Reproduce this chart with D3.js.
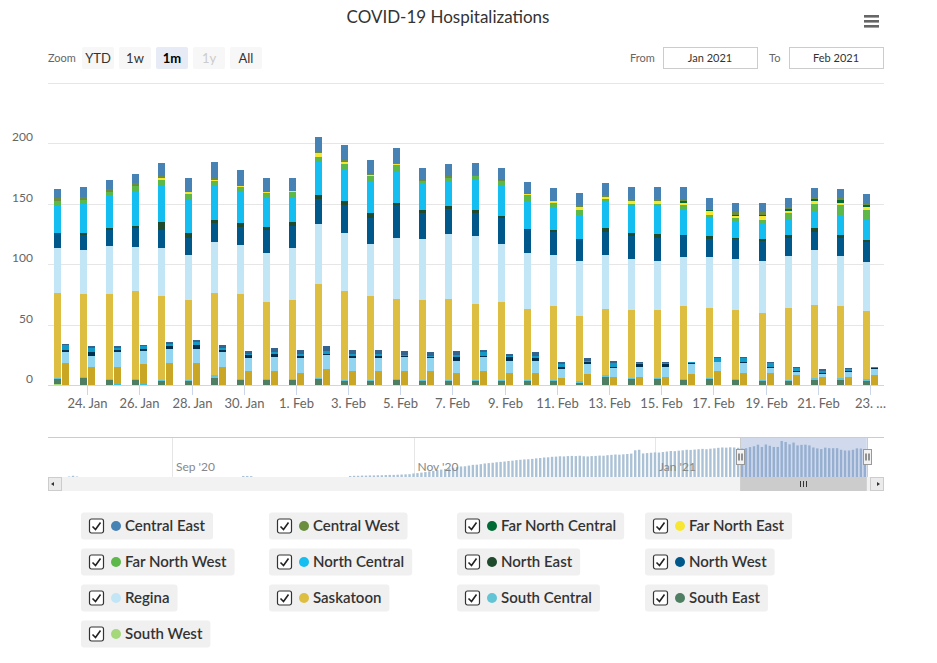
<!DOCTYPE html>
<html>
<head>
<meta charset="utf-8">
<script src="https://cdn.jsdelivr.net/npm/d3@7/dist/d3.min.js"></script>
<style>
  body { margin: 0; background: #fff; }
  svg { display: block; font-family: Lato, "Open Sans", sans-serif; }
</style>
</head>
<body>
<svg id="chart" width="937" height="663"></svg>
<script>
// ---- data ----
const titleText = "COVID-19 Hospitalizations";

const dayLabels = ["2021-01-23","2021-01-24","2021-01-25","2021-01-26","2021-01-27","2021-01-28","2021-01-29","2021-01-30",
  "2021-01-31","2021-02-01","2021-02-02","2021-02-03","2021-02-04","2021-02-05","2021-02-06","2021-02-07",
  "2021-02-08","2021-02-09","2021-02-10","2021-02-11","2021-02-12","2021-02-13","2021-02-14","2021-02-15",
  "2021-02-16","2021-02-17","2021-02-18","2021-02-19","2021-02-20","2021-02-21","2021-02-22","2021-02-23"];

const regions = ["Central East","Central West","Far North Central","Far North East","Far North West","North Central",
  "North East","North West","Regina","Saskatoon","South Central","South East","South West"];
const regionColors = ["#4682b4","#6b8e3e","#006b35","#f7e733","#5cb848","#15bef0",
  "#1f4a2c","#00578a","#c2e6f6","#ddbe40","#62c4d4","#4f7f63","#a5d87a"];

// hospitalized (left column of each day)
const centralEast     = [7,8,8,8,11,11,14,13,11,10,12,13,11,12,10,10,10,10,10,11,10,10,10,10,11,9,8,8,8,8,7,8];
const centralWest     = [3,3,2,2,2,0,1,0,0,0,1,1,1,1,1,2,1,1,0,0,2,1,2,2,1,1,2,2,1,1,2,1];
const farNorthCentral = [0,0,0,0,0,0,0,0,0,0,0,0,0,0,0,0,0,0,0,0,0,0,0,0,1,1,1,1,2,2,2,2];
const farNorthEast    = [0,0,0,0,1,2,1,1,1,1,3,2,1,1,0,0,0,0,1,1,2,2,2,2,2,3,2,3,2,2,2,2];
const farNorthWest    = [4,3,3,5,5,5,4,4,3,4,4,5,4,5,2,2,3,4,5,4,4,2,2,2,4,3,2,3,5,6,8,8];
const northCentral    = [22,24,27,28,30,27,28,26,25,21,28,26,27,26,22,21,25,25,23,19,20,22,22,23,21,15,14,13,13,14,17,17];
const northEast       = [0,2,2,2,7,4,3,3,3,3,3,3,4,2,3,2,3,2,1,1,0,3,3,3,1,2,1,2,2,3,2,2];
const northWest       = [13,12,13,16,15,14,16,15,19,19,21,23,21,27,21,21,19,21,19,19,18,19,19,19,17,15,17,16,15,15,15,16];
const regina          = [37,37,40,36,39,38,42,41,40,43,49,48,43,51,51,54,56,48,46,43,46,45,42,41,41,42,42,43,43,46,42,41];
const saskatoon       = [70,68,70,73,70,66,68,70,64,65,78,74,70,66,66,67,63,65,59,61,54,55,56,56,60,58,57,56,60,60,59,56];
const southCentral    = [1,1,1,1,1,1,2,1,1,1,1,1,1,1,1,1,1,1,1,1,1,1,1,1,1,1,1,1,1,2,2,2];
const southEast       = [4,6,4,4,3,3,6,4,4,4,5,3,3,4,3,3,3,3,3,3,2,7,5,5,4,5,4,3,3,4,4,3];
const southWest       = [1,0,0,0,0,0,0,0,0,0,0,0,0,0,0,0,0,0,0,0,0,0,0,0,0,0,0,0,0,0,0,0];

// in ICU (right column of each day, darker shades)
const icuRegions = ["South Central","Saskatoon","Regina","North West","North Central","Central East"];
const icuColors  = ["#3cbfd9","#c9a623","#92d5f1","#00304f","#1399c6","#33648f"];
const icuSouthCentral = [0,0,1,1,0,0,0,0,0,0,0,0,0,0,0,0,0,0,0,0,0,0,0,0,0,0,0,0,0,0,0,0];
const icuSaskatoon    = [18,15,14,16,18,18,15,12,12,10,13,12,12,12,12,10,12,10,10,6,9,7,7,7,9,12,10,10,8,7,7,8];
const icuRegina       = [9,9,12,11,12,12,12,10,11,12,12,10,10,11,10,10,11,10,10,7,8,7,8,8,8,7,8,4,3,2,4,5];
const icuNorthWest    = [2,3,2,2,2,3,2,3,3,2,1,2,2,1,1,3,1,3,2,2,2,1,2,2,1,0,1,1,1,1,1,1];
const icuNorthCentral = [4,4,2,2,2,3,2,1,1,2,2,2,2,1,1,2,3,1,2,2,1,3,1,1,1,3,3,3,2,2,1,1];
const icuCentralEast  = [1,1,1,1,2,1,2,2,4,3,4,3,3,3,3,3,2,2,3,2,2,2,1,1,0,1,1,1,1,1,1,0];

// x axis ticks
const tickDays   = ["2021-01-24","2021-01-26","2021-01-28","2021-01-30","2021-02-01","2021-02-03","2021-02-05","2021-02-07",
  "2021-02-09","2021-02-11","2021-02-13","2021-02-15","2021-02-17","2021-02-19","2021-02-21","2021-02-23"];
const tickLabels = ["24. Jan","26. Jan","28. Jan","30. Jan","1. Feb","3. Feb","5. Feb","7. Feb",
  "9. Feb","11. Feb","13. Feb","15. Feb","17. Feb","19. Feb","21. Feb","23. \u2026"];
const yTicks = [0,50,100,150,200,250];

// navigator: daily totals before the zoomed month (Aug 1 2020 - Jan 22 2021)
const navAug = [0,0,0,0,0,3,7,3,0,0,0,0,0,0,0,0,0,0,0,0,0,0,0,0,0,0,0,0,0,0,0];
const navSep = [0,0,0,0,0,0,0,0,0,0,0,0,0,0,0,0,0,0,6,6,5,0,0,0,0,0,0,0,0,0];
const navOct = [0,0,0,0,0,0,0,0,0,0,0,0,0,0,0,6,7,7,8,8,9,9,10,10,11,12,12,13,14,15,16];
const navNov = [20,22,25,28,32,35,39,42,46,50,53,56,60,61,65,69,70,73,77,79,81,84,86,88,91,93,96,98,100,101];
const navDec = [103,106,108,111,112,115,116,118,117,119,120,119,121,118,117,119,120,122,121,124,126,128,127,129,131,133,152,155,134,136,138];
const navJan = [140,139,142,145,148,147,150,152,155,154,156,158,160,158,161,163,166,168,167,169,168,166];
const navAxisDates  = ["2020-09-01","2020-11-01","2021-01-01"];
const navAxisLabels = ["Sep '20","Nov '20","Jan '21"];

const zoomButtons = ["YTD","1w","1m","1y","All"];

// ---- setup ----
const parse = d3.timeParse("%Y-%m-%d");
const days = dayLabels.map(parse);

const hospital = {
  "Central East": centralEast, "Central West": centralWest, "Far North Central": farNorthCentral,
  "Far North East": farNorthEast, "Far North West": farNorthWest, "North Central": northCentral,
  "North East": northEast, "North West": northWest, "Regina": regina, "Saskatoon": saskatoon,
  "South Central": southCentral, "South East": southEast, "South West": southWest
};
const icu = {
  "South Central": icuSouthCentral, "Saskatoon": icuSaskatoon, "Regina": icuRegina,
  "North West": icuNorthWest, "North Central": icuNorthCentral, "Central East": icuCentralEast
};

const hospRows = days.map((d, i) => {
  const r = {date: d};
  regions.forEach(k => r[k] = hospital[k][i]);
  return r;
});
const icuRows = days.map((d, i) => {
  const r = {date: d};
  icuRegions.forEach(k => r[k] = icu[k][i]);
  return r;
});

const svg = d3.select("#chart");

const plot = {left: 48, right: 884, top: 83, bottom: 385};

const x = d3.scaleTime()
  .domain([d3.timeHour.offset(days[0], -12), d3.timeHour.offset(days[days.length - 1], 12)])
  .range([plot.left, plot.right - 1]);
const y = d3.scaleLinear().domain([0, 250]).range([plot.bottom, plot.top]);

// ---- title & menu ----
svg.append("text")
  .attr("x", 448).attr("y", 23)
  .attr("text-anchor", "middle")
  .attr("font-size", 17)
  .attr("fill", "#333")
  .text(titleText);

[15, 20, 25].forEach(v => {
  svg.append("rect").attr("x", 864).attr("y", v).attr("width", 15).attr("height", 2.6).attr("fill", "#666");
});

// ---- range selector ----
svg.append("text").attr("x", 48).attr("y", 62).attr("font-size", 11).attr("fill", "#666").text("Zoom");

const btn = svg.append("g").selectAll("g")
  .data(zoomButtons)
  .join("g")
  .attr("transform", (d, i) => `translate(${82 + i * 37}, 47)`);
btn.append("rect")
  .attr("width", 32).attr("height", 22).attr("rx", 2)
  .attr("fill", d => d === "1m" ? "#e6ebf5" : "#f7f7f7");
btn.append("text")
  .attr("x", 16).attr("y", 15.5)
  .attr("text-anchor", "middle")
  .attr("font-size", 13)
  .attr("font-weight", d => d === "1m" ? "bold" : "normal")
  .attr("fill", d => d === "1m" ? "#000" : (d === "1y" ? "#ccc" : "#333"))
  .text(d => d);

svg.append("text").attr("x", 630).attr("y", 62).attr("font-size", 11).attr("fill", "#666").text("From");
svg.append("text").attr("x", 769).attr("y", 62).attr("font-size", 11).attr("fill", "#666").text("To");
[[663, "Jan 2021"], [789, "Feb 2021"]].forEach(([bx, t]) => {
  svg.append("rect").attr("x", bx + 0.5).attr("y", 47.5).attr("width", 94).attr("height", 21)
    .attr("fill", "#fff").attr("stroke", "#ccc");
  svg.append("text").attr("x", bx + 47).attr("y", 62).attr("text-anchor", "middle")
    .attr("font-size", 11).attr("fill", "#333").text(t);
});

// ---- grid & y axis ----
svg.append("g").selectAll("line")
  .data(yTicks)
  .join("line")
  .attr("x1", plot.left).attr("x2", plot.right)
  .attr("y1", d => Math.round(y(d)) + 0.5).attr("y2", d => Math.round(y(d)) + 0.5)
  .attr("stroke", "#e6e6e6");

svg.append("g").selectAll("text")
  .data(yTicks.slice(0, -1))
  .join("text")
  .attr("x", 33).attr("y", d => Math.round(y(d)) - 2)
  .attr("text-anchor", "end")
  .attr("font-size", 12)
  .attr("fill", "#666")
  .text(d => d);

// ---- stacked columns ----
const hospStack = d3.stack().keys(regions.slice().reverse())(hospRows);
const icuStack = d3.stack().keys(icuRegions)(icuRows);

const bars = svg.append("g").attr("shape-rendering", "crispEdges");

bars.selectAll("g.hosp")
  .data(hospStack)
  .join("g")
  .attr("class", "hosp")
  .attr("fill", s => regionColors[regions.indexOf(s.key)])
  .selectAll("rect")
  .data(s => s.filter(d => d[1] > d[0]))
  .join("rect")
  .attr("x", d => Math.round(x(d.data.date)) - 7)
  .attr("width", 7)
  .attr("y", d => Math.round(y(d[1])))
  .attr("height", d => Math.round(y(d[0])) - Math.round(y(d[1])));

bars.selectAll("g.icu")
  .data(icuStack)
  .join("g")
  .attr("class", "icu")
  .attr("fill", s => icuColors[icuRegions.indexOf(s.key)])
  .selectAll("rect")
  .data(s => s.filter(d => d[1] > d[0]))
  .join("rect")
  .attr("x", d => Math.round(x(d.data.date)) + 1)
  .attr("width", 7)
  .attr("y", d => Math.round(y(d[1])))
  .attr("height", d => Math.round(y(d[0])) - Math.round(y(d[1])));

// ---- x axis ----
svg.append("line")
  .attr("x1", plot.left).attr("x2", plot.right)
  .attr("y1", plot.bottom + 0.5).attr("y2", plot.bottom + 0.5)
  .attr("stroke", "#ccd6eb");

const xt = svg.append("g").selectAll("g")
  .data(tickDays.map(parse))
  .join("g")
  .attr("transform", d => `translate(${Math.round(x(d)) + 0.5},0)`);
xt.append("line").attr("y1", plot.bottom).attr("y2", plot.bottom + 10).attr("stroke", "#ccd6eb");
xt.append("text")
  .attr("y", 408)
  .attr("text-anchor", "middle")
  .attr("font-size", 13)
  .attr("fill", "#666")
  .text((d, i) => tickLabels[i]);

// ---- navigator ----
const nav = {top: 437, bottom: 477};
const navStart = parse("2020-08-01");
const navEarly = [].concat(navAug, navSep, navOct, navNov, navDec, navJan);
const navRows = navEarly.map((v, i) => ({date: d3.timeDay.offset(navStart, i), value: v}))
  .concat(hospRows.map(r => ({date: r.date, value: d3.sum(regions, k => r[k])})));

const navDates = navAxisDates.map(parse);
const nx = d3.scaleTime().domain([navDates[0], navDates[2]]).range([172, 655]);
const ny = d3.scaleLinear().domain([0, d3.max(navRows, d => d.value) * 1.11]).range([nav.bottom, nav.top]);

svg.append("g").selectAll("line")
  .data(navDates)
  .join("line")
  .attr("x1", d => Math.round(nx(d)) + 0.5).attr("x2", d => Math.round(nx(d)) + 0.5)
  .attr("y1", nav.top).attr("y2", nav.bottom)
  .attr("stroke", "#e6e6e6");

svg.append("g").attr("fill", "#abc2d6")
  .selectAll("rect")
  .data(navRows.filter(d => d.value > 0))
  .join("rect")
  .attr("x", d => nx(d.date) - 1.2)
  .attr("width", 2.4)
  .attr("y", d => ny(d.value))
  .attr("height", d => nav.bottom - ny(d.value));

svg.append("g").selectAll("text")
  .data(navDates)
  .join("text")
  .attr("x", d => nx(d) + 4).attr("y", 471)
  .attr("font-size", 12)
  .attr("fill", "#888")
  .text((d, i) => navAxisLabels[i]);

const maskL = nx(x.domain()[0]);
const maskR = nx(x.domain()[1]);
svg.append("rect")
  .attr("x", maskL).attr("y", nav.top)
  .attr("width", maskR - maskL).attr("height", nav.bottom - nav.top)
  .attr("fill", "rgba(102,133,194,0.3)");

svg.append("path")
  .attr("d", `M${plot.left},${nav.top + 0.5}H${plot.right}`)
  .attr("stroke", "#ccc").attr("fill", "none");
svg.append("path")
  .attr("d", `M${Math.round(maskL) + 0.5},${nav.top}V${nav.bottom}M${Math.round(maskR) + 0.5},${nav.top}V${nav.bottom}`)
  .attr("stroke", "#ccc").attr("fill", "none");

[maskL, maskR].forEach(hx => {
  const g = svg.append("g").attr("transform", `translate(${Math.round(hx) + 0.5},449.5)`);
  g.append("rect").attr("x", -4).attr("width", 8).attr("height", 15)
    .attr("fill", "#f2f2f2").attr("stroke", "#999");
  g.append("path").attr("d", "M-1.5,4V11M1.5,4V11").attr("stroke", "#333");
});

// ---- scrollbar ----
const sb = {top: 477, h: 14};
svg.append("rect").attr("x", plot.left).attr("y", sb.top).attr("width", plot.right - plot.left).attr("height", sb.h)
  .attr("fill", "#f2f2f2");
svg.append("rect").attr("x", maskL).attr("y", sb.top).attr("width", maskR - maskL).attr("height", sb.h)
  .attr("fill", "#ccc");
const mid = Math.round((maskL + maskR) / 2) + 0.5;
svg.append("path")
  .attr("d", `M${mid - 3},${sb.top + 4}V${sb.top + 10}M${mid},${sb.top + 4}V${sb.top + 10}M${mid + 3},${sb.top + 4}V${sb.top + 10}`)
  .attr("stroke", "#333");
[[plot.left, "M6,5L6,9L3,7Z"], [plot.right - 14, "M7,5L7,9L10,7Z"]].forEach(([bx, p]) => {
  svg.append("rect").attr("x", bx + 0.5).attr("y", sb.top + 0.5).attr("width", 13).attr("height", 13)
    .attr("fill", "#ebebeb").attr("stroke", "#ccc");
  svg.append("path").attr("transform", `translate(${bx},${sb.top})`).attr("d", p).attr("fill", "#333");
});

// ---- legend ----
const leg = svg.append("g").selectAll("g")
  .data(regions)
  .join("g")
  .attr("transform", (d, i) => `translate(${81 + (i % 4) * 188}, ${526 + Math.floor(i / 4) * 36})`);

const bg = leg.append("rect")
  .attr("y", -13.5).attr("height", 27).attr("rx", 3)
  .attr("fill", "#f0f0f0");
leg.append("rect")
  .attr("x", 8.5).attr("y", -7).attr("width", 14).attr("height", 14).attr("rx", 2)
  .attr("fill", "#fff").attr("stroke", "#333").attr("stroke-width", 1.2);
leg.append("path")
  .attr("d", "M11.5,0.5L14.5,3.5L19.5,-3.5")
  .attr("fill", "none").attr("stroke", "#222").attr("stroke-width", 1.6);
leg.append("circle")
  .attr("cx", 35).attr("cy", 0).attr("r", 5)
  .attr("fill", (d, i) => regionColors[i]);
const lt = leg.append("text")
  .attr("x", 44).attr("y", 5)
  .attr("font-size", 15)
  .attr("font-weight", 600)
  .attr("fill", "#333")
  .text(d => d);
lt.each(function(d, i) {
  const w = this.getComputedTextLength();
  d3.select(bg.nodes()[i]).attr("width", 44 + w + 8);
});
</script>
</body>
</html>
